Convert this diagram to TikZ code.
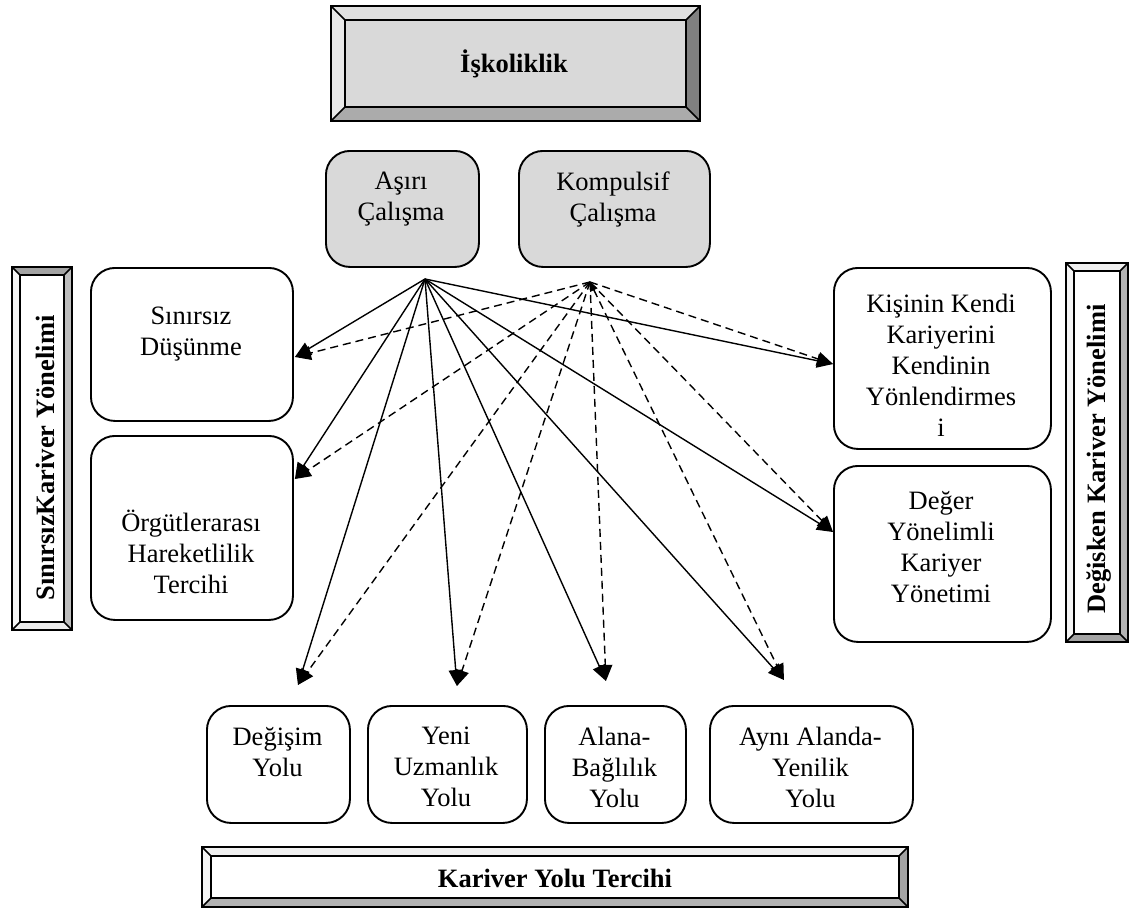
\documentclass[tikz,border=0pt]{standalone}
\usepackage{fontspec}
\setmainfont{Liberation Serif}
\usetikzlibrary{arrows.meta,calc}

\definecolor{boxgray}{HTML}{D9D9D9}

% bevelled frame: x1, y1, x2, y2, bevel width (colours bvtop/bvleft/bvbot/bvright/bvface)
\newcommand{\bevelrect}[5]{%
  \fill[bvtop] (#1,#2) -- (#3,#2) -- ({#3-#5},{#2+#5}) -- ({#1+#5},{#2+#5}) -- cycle;
  \fill[bvbot] (#1,#4) -- (#3,#4) -- ({#3-#5},{#4-#5}) -- ({#1+#5},{#4-#5}) -- cycle;
  \fill[bvleft] (#1,#2) -- ({#1+#5},{#2+#5}) -- ({#1+#5},{#4-#5}) -- (#1,#4) -- cycle;
  \fill[bvright] (#3,#2) -- ({#3-#5},{#2+#5}) -- ({#3-#5},{#4-#5}) -- (#3,#4) -- cycle;
  \fill[bvface] ({#1+#5},{#2+#5}) rectangle ({#3-#5},{#4-#5});
  \draw[bevelline] (#1,#2) rectangle (#3,#4)
    ({#1+#5},{#2+#5}) rectangle ({#3-#5},{#4-#5})
    (#1,#2) -- ({#1+#5},{#2+#5}) (#3,#2) -- ({#3-#5},{#2+#5})
    (#1,#4) -- ({#1+#5},{#4-#5}) (#3,#4) -- ({#3-#5},{#4-#5});
}

\tikzset{
  bevelline/.style={draw=black, line width=1.6pt, line join=miter},
  rbox/.style={draw=black, line width=1.9pt, rounded corners=24pt, fill=white,
    anchor=north west, inner sep=0pt},
  gbox/.style={rbox, fill=boxgray},
  txt/.style={font=\fontsize{26.5}{31}\selectfont, align=center, inner sep=0pt},
  bantext/.style={font=\fontsize{26.5}{30}\selectfont\bfseries, inner sep=0pt},
  solidarrow/.style={line width=1.4pt, -{Triangle[length=16pt,width=14pt]}},
  dasharrow/.style={line width=1.4pt, dash pattern=on 8pt off 5pt,
    -{Triangle[length=16pt,width=14pt]}},
}

\begin{document}
\begin{tikzpicture}[x=1pt, y=-1pt]
\useasboundingbox (0,0) rectangle (1130,910);

% ---- İşkoliklik banner
\colorlet{bvtop}{black!12}\colorlet{bvleft}{black!9}\colorlet{bvbot}{black!33}
\colorlet{bvright}{black!50}\colorlet{bvface}{boxgray}
\bevelrect{331}{6}{700}{121}{14}
\node[bantext] (iskT) at (514,64) {İşkoliklik};

% ---- side banners
\colorlet{bvtop}{black!36}\colorlet{bvleft}{black!4}\colorlet{bvbot}{black!8}
\colorlet{bvright}{black!26}\colorlet{bvface}{white}
\bevelrect{12}{267}{72}{630}{8}
\node[bantext, rotate=90] (sinirT) at (45,458) {SınırsızKariver Yönelimi};

\colorlet{bvtop}{black!6}\colorlet{bvleft}{black!4}\colorlet{bvbot}{black!36}
\colorlet{bvright}{black!30}\colorlet{bvface}{white}
\bevelrect{1066}{263}{1128}{642}{8}
\node[bantext, rotate=90] (degT) at (1099,459) {Değisken Kariver Yönelimi};

% ---- Kariver Yolu Tercihi banner
\colorlet{bvtop}{black!6}\colorlet{bvleft}{black!4}\colorlet{bvbot}{black!30}
\colorlet{bvright}{black!36}\colorlet{bvface}{white}
\bevelrect{202}{847}{908}{907}{9}
\node[bantext] (kyT) at (555,878) {Kariver Yolu Tercihi};

% ---- gray source boxes
\node[gbox, minimum width=153pt, minimum height=116pt] (asiri) at (325,150) {};
\node[txt] (asiriT) at (401,199) {Aşırı\\Çalışma};
\node[gbox, minimum width=191pt, minimum height=116pt] (komp) at (518,150) {};
\node[txt] (kompT) at (613,199) {Kompulsif\\Çalışma};

% ---- left boxes
\node[rbox, minimum width=202pt, minimum height=153pt] (sin) at (90,267) {};
\node[txt] (sinT) at (191,334) {Sınırsız\\Düşünme};
\node[rbox, minimum width=202pt, minimum height=184pt] (org) at (90,435) {};
\node[txt] (orgT) at (191,552) {Örgütlerarası\\Hareketlilik\\Tercihi};

% ---- right boxes
\node[rbox, minimum width=217pt, minimum height=181pt] (kis) at (833,267) {};
\node[txt] (kisT) at (941,365) {Kişinin Kendi\\Kariyerini\\Kendinin\\Yönlendirmes\\i};
\node[rbox, minimum width=217pt, minimum height=176pt] (deg) at (833,465) {};
\node[txt] (degerT) at (941,547) {Değer\\Yönelimli\\Kariyer\\Yönetimi};

% ---- bottom boxes
\node[rbox, minimum width=143pt, minimum height=117pt] (dgs) at (206,705) {};
\node[txt] (dgsT) at (277.5,752) {Değişim\\Yolu};
\node[rbox, minimum width=159pt, minimum height=117pt] (yeni) at (367,705) {};
\node[txt] (yeniT) at (446,767) {Yeni\\Uzmanlık\\Yolu};
\node[rbox, minimum width=141pt, minimum height=117pt] (alana) at (544,705) {};
\node[txt] (alanaT) at (614.5,767) {Alana-\\Bağlılık\\Yolu};
\node[rbox, minimum width=203pt, minimum height=117pt] (ayni) at (709,705) {};
\node[txt] (ayniT) at (810.5,767) {Aynı Alanda-\\Yenilik\\Yolu};

% ---- connector end points
\coordinate (s) at (425,279);
\coordinate (d) at (590,282);
\coordinate (tSin) at ([xshift=1pt,yshift=-90pt]sin.north east);
\coordinate (tOrg) at ([xshift=1pt,yshift=-44pt]org.north east);
\coordinate (tKis) at ([yshift=-97pt]kis.north west);
\coordinate (tDeg) at ([yshift=-67pt]deg.north west);
\coordinate (tDgs) at ([xshift=19.5pt,yshift=20pt]dgs.north);
\coordinate (tYeni) at ([xshift=9.5pt,yshift=19pt]yeni.north);
\coordinate (tAlana) at ([xshift=-9.5pt,yshift=24pt]alana.north);
\coordinate (tAyni) at ([xshift=-27.5pt,yshift=25pt]ayni.north);

% ---- solid connectors from Aşırı Çalışma
\foreach \t in {tSin,tOrg,tKis,tDeg,tDgs,tYeni,tAlana,tAyni}
  \draw[solidarrow] (s) -- (\t);

% ---- dashed connectors from Kompulsif Çalışma
\foreach \t in {tSin,tOrg,tKis,tDeg,tDgs,tYeni,tAlana}
  \draw[dasharrow] (d) -- (\t);
\draw[dasharrow, {Triangle[length=9pt,width=8pt]}-{Triangle[length=16pt,width=14pt]}] (d) -- (tAyni);
\end{tikzpicture}
\end{document}
